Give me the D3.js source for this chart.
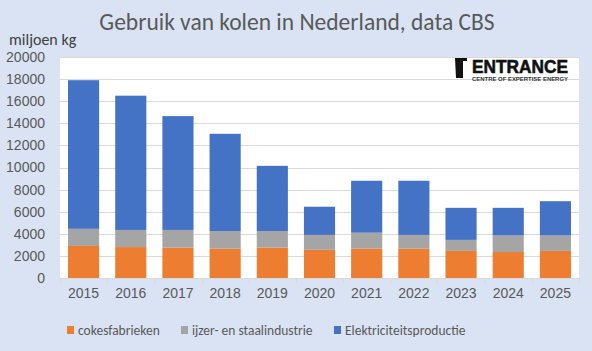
<!DOCTYPE html>
<html>
<head>
<meta charset="utf-8">
<script src="https://cdn.jsdelivr.net/npm/d3@7"></script>
<style>
  body { margin: 0; background: #dae3f3; }
  svg { display: block; font-family: Carlito, Calibri, "Open Sans", "Liberation Sans", sans-serif; }
</style>
</head>
<body>
<div id="chart"></div>
<script>
// jaren en waarden (miljoen kg)
const years = ['2015', '2016', '2017', '2018', '2019', '2020', '2021', '2022', '2023', '2024', '2025']
const cokesfabrieken = [2900, 2800, 2750, 2650, 2750, 2550, 2650, 2650, 2450, 2350, 2450]
const ijzerStaal = [1550, 1550, 1600, 1600, 1500, 1350, 1450, 1250, 1000, 1500, 1400]
const elektriciteit = [13450, 12150, 10300, 8800, 5900, 2550, 4700, 4900, 2900, 2500, 3100]
const seriesNames = ['cokesfabrieken', 'ijzer- en staalindustrie', 'Elektriciteitsproductie']
const yTicks = [0, 2000, 4000, 6000, 8000, 10000, 12000, 14000, 16000, 18000, 20000]

const width = 592
const height = 351
const margin = { top: 57, right: 13, bottom: 73, left: 60 }
const textColor = '#595959'
const colors = ['#ed7d31', '#a5a5a5', '#4472c4']

const table = years.map((y, i) => ({
  year: y,
  cokesfabrieken: cokesfabrieken[i],
  'ijzer- en staalindustrie': ijzerStaal[i],
  Elektriciteitsproductie: elektriciteit[i]
}))
const stacked = d3.stack().keys(seriesNames)(table)

const svg = d3.select('#chart').append('svg')
  .attr('width', width)
  .attr('height', height)

svg.append('rect')
  .attr('width', width)
  .attr('height', height)
  .attr('fill', '#dae3f3')

const x = d3.scaleBand()
  .domain(years)
  .range([margin.left, width - margin.right])
  .paddingInner(0.34)
  .paddingOuter(0.17)

const y = d3.scaleLinear()
  .domain([0, 20000])
  .range([height - margin.bottom, margin.top])

// plotgebied
svg.append('rect')
  .attr('x', margin.left)
  .attr('y', margin.top)
  .attr('width', width - margin.left - margin.right)
  .attr('height', height - margin.top - margin.bottom)
  .attr('fill', '#ffffff')

// rasterlijnen
svg.append('g')
  .selectAll('line')
  .data(yTicks.filter(d => d > 0))
  .join('line')
  .attr('x1', margin.left)
  .attr('x2', width - margin.right)
  .attr('y1', d => Math.round(y(d)) + 0.5)
  .attr('y2', d => Math.round(y(d)) + 0.5)
  .attr('stroke', '#d9d9d9')
  .attr('stroke-width', 1)

// y-as labels
const yAxis = d3.axisLeft(y).tickValues(yTicks).tickFormat(d3.format('d')).tickSize(0).tickPadding(0)
svg.append('g')
  .attr('transform', `translate(${margin.left - 15},0)`)
  .call(yAxis)
  .call(g => g.select('.domain').remove())
  .selectAll('text')
  .attr('fill', textColor)
  .style('font-size', '14px')

// staven
svg.append('g')
  .selectAll('g')
  .data(stacked)
  .join('g')
  .attr('fill', (d, i) => colors[i])
  .selectAll('rect')
  .data(d => d)
  .join('rect')
  .attr('x', d => x(d.data.year))
  .attr('width', x.bandwidth())
  .attr('y', d => y(d[1]))
  .attr('height', d => y(d[0]) - y(d[1]))

// x-as
const xLine = d3.axisBottom(x).tickSize(0).tickPadding(10)
const xAxisG = svg.append('g')
  .attr('transform', `translate(0,${height - margin.bottom})`)
  .call(xLine)
xAxisG.select('.domain').attr('stroke', '#d9d9d9')
xAxisG.selectAll('text')
  .attr('fill', textColor)
  .style('font-size', '14px')
xAxisG.append('g')
  .selectAll('line')
  .data(years.concat(['end']))
  .join('line')
  .attr('x1', (d, i) => Math.round(margin.left + i * x.step()) + 0.5)
  .attr('x2', (d, i) => Math.round(margin.left + i * x.step()) + 0.5)
  .attr('y1', 0)
  .attr('y2', 5)
  .attr('stroke', '#d9d9d9')

// titel
svg.append('text')
  .attr('x', 297)
  .attr('y', 30)
  .attr('text-anchor', 'middle')
  .attr('fill', textColor)
  .style('font-size', '23.5px')
  .text('Gebruik van kolen in Nederland, data CBS')

svg.append('text')
  .attr('x', 9)
  .attr('y', 45)
  .attr('fill', '#404040')
  .style('font-size', '16px')
  .text('miljoen kg')

// legenda
const legendX = [67, 181, 334]
const legend = svg.append('g')
  .selectAll('g')
  .data(seriesNames)
  .join('g')
  .attr('transform', (d, i) => `translate(${legendX[i]},330)`)
legend.append('rect')
  .attr('x', 0)
  .attr('y', -4)
  .attr('width', 7)
  .attr('height', 8)
  .attr('fill', (d, i) => colors[i])
legend.append('text')
  .attr('x', 11)
  .attr('y', 5)
  .attr('fill', textColor)
  .style('font-size', '13.5px')
  .text(d => d)

// logo
const logo = svg.append('g')
logo.append('path')
  .attr('d', 'M455,58 L467,58 L467,61 L463,61 L463,78 L456,78 Z')
  .attr('fill', '#111111')
logo.append('text')
  .attr('x', 472)
  .attr('y', 73)
  .attr('textLength', 96)
  .attr('lengthAdjust', 'spacingAndGlyphs')
  .attr('fill', '#111111')
  .style('font-family', '"Liberation Sans", Arial, sans-serif')
  .style('font-weight', 'bold')
  .style('font-size', '19px')
  .style('stroke', '#111111')
  .style('stroke-width', '0.6px')
  .text('ENTRANCE')
logo.append('text')
  .attr('x', 472)
  .attr('y', 81)
  .attr('textLength', 96)
  .attr('lengthAdjust', 'spacingAndGlyphs')
  .attr('fill', '#333333')
  .style('font-family', '"Liberation Sans", Arial, sans-serif')
  .style('font-weight', 'bold')
  .style('font-size', '5px')
  .text('CENTRE OF EXPERTISE ENERGY')
</script>
</body>
</html>
